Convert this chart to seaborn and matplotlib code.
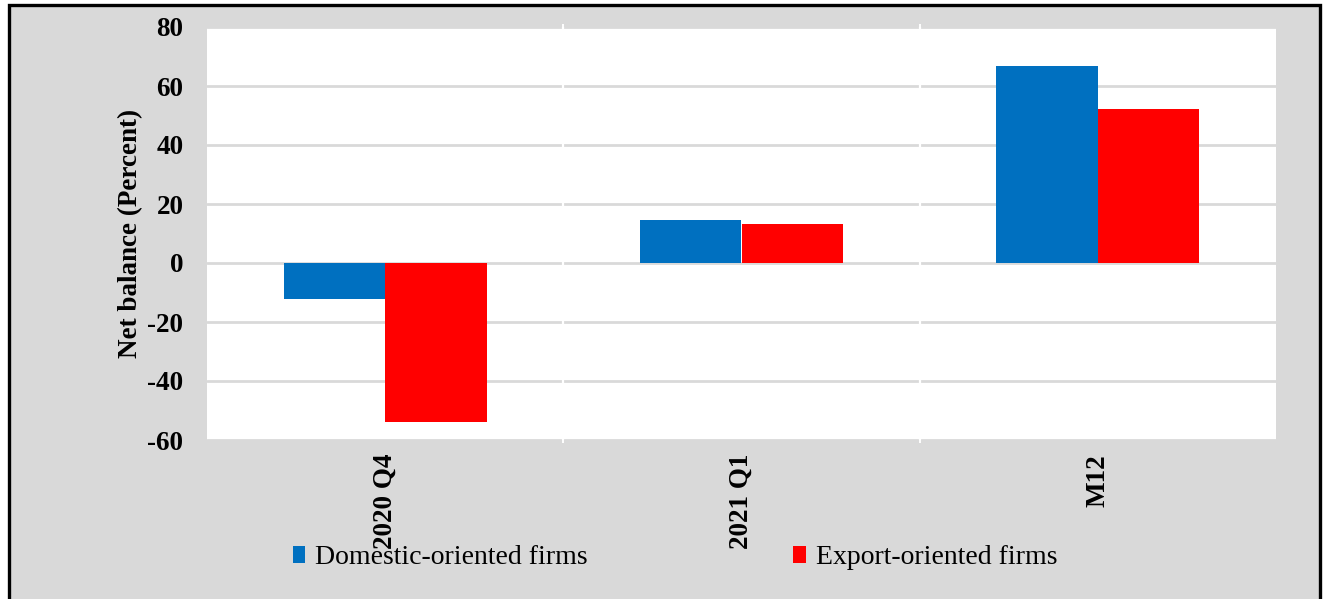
import matplotlib
matplotlib.use("Agg")
import matplotlib.pyplot as plt
import seaborn as sns
import pandas as pd
from matplotlib.patches import Rectangle

# Net balance of firms' expectations, by orientation
periods = ["2020 Q4", "2021 Q1", "M12"]
domestic = [-12.3, 14.6, 66.7]
export = [-53.9, 13.2, 52.1]
series_names = ["Domestic-oriented firms", "Export-oriented firms"]
series_colors = ["#0070C0", "#FF0000"]
y_ticks = [-60, -40, -20, 0, 20, 40, 60, 80]
y_label = "Net balance (Percent)"

df = pd.DataFrame({
    "period": periods * 2,
    "value": domestic + export,
    "series": [series_names[0]] * len(periods) + [series_names[1]] * len(periods),
})

sns.set_theme(style="white")
plt.rcParams["font.family"] = ["Liberation Serif", "DejaVu Serif"]
plt.rcParams["text.color"] = "black"

W, H = 1327, 599
fig = plt.figure(figsize=(W / 100, H / 100), dpi=100)
fig.patch.set_facecolor("white")

# grey chart area with a black frame
frame = Rectangle((9 / W, -0.02), (1320 - 9) / W, 1 - 5 / H + 0.02,
                  transform=fig.transFigure, facecolor="#D9D9D9",
                  edgecolor="black", linewidth=2.4, zorder=-5)
fig.patches.append(frame)

ax = fig.add_axes([207 / W, 1 - 440 / H, (1276 - 207) / W, (440 - 27) / H])
ax.set_zorder(2)
ax.set_facecolor("white")

sns.barplot(data=df, x="period", y="value", hue="series", hue_order=series_names,
            palette=series_colors, width=0.57, gap=0, saturation=1,
            errorbar=None, ax=ax, zorder=2, linewidth=0)

handles, labels = ax.get_legend_handles_labels()
if ax.get_legend() is not None:
    ax.get_legend().remove()
for h in handles:
    h.set_edgecolor("none")

ax.set_ylim(-60, 80)
ax.set_xlim(-0.5, len(periods) - 0.5)
ax.set_yticks(y_ticks)
ax.set_yticklabels([str(t) for t in y_ticks], fontsize=19.5, fontweight="bold")
ax.set_xticks(range(len(periods)))
ax.set_xticklabels(periods, rotation=90, fontsize=19.5, fontweight="bold")
ax.set_xlabel("")
ax.set_ylabel(y_label, fontsize=19.5, fontweight="bold", labelpad=3, color="black")

ax.set_axisbelow(True)
ax.yaxis.grid(True, color="#D9D9D9", linewidth=2)
ax.xaxis.grid(False)
# white separators between categories
ax.vlines([i + 0.5 for i in range(len(periods) - 1)], -60, 80,
          colors="white", linewidth=1.6, zorder=1)
ax.set_xticks([i + 0.5 for i in range(len(periods) - 1)], minor=True)
ax.tick_params(axis="x", which="minor", length=5, width=1.4, color="white",
               direction="inout", top=True, bottom=True)
ax.tick_params(axis="x", which="major", length=0, pad=10, labelcolor="black")
ax.tick_params(axis="y", length=0, pad=17, labelcolor="black")
for s in ax.spines.values():
    s.set_visible(False)

leg = fig.legend(handles, labels, loc="center", bbox_to_anchor=(675 / W, 1 - 558 / H),
                 ncol=2, frameon=False, fontsize=20, handlelength=0.45,
                 handleheight=0.55, handletextpad=0.35, columnspacing=7.4)
leg.set_zorder(3)
for t in leg.get_texts():
    t.set_color("black")

fig.savefig("out.png", dpi=100)
